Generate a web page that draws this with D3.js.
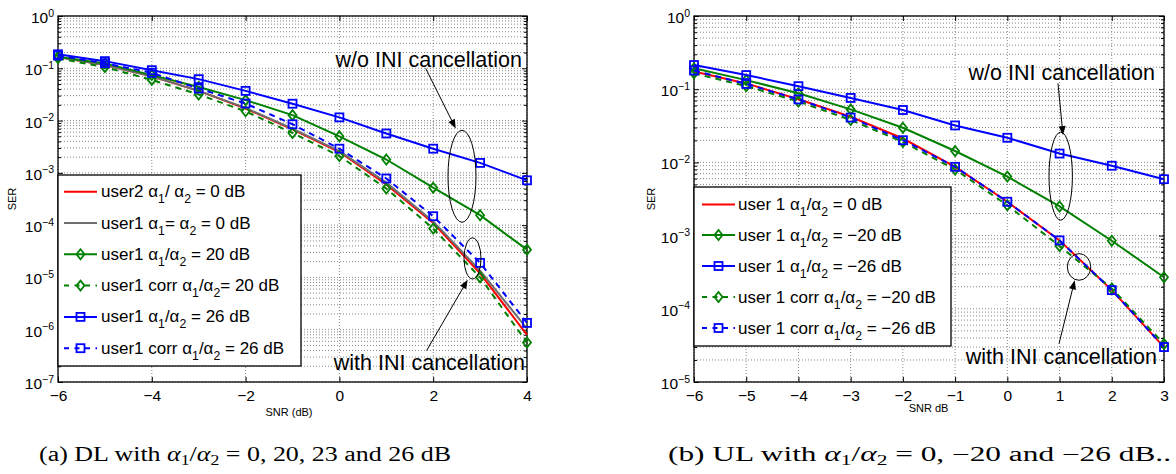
<!DOCTYPE html>
<html><head><meta charset="utf-8">
<script src="https://cdn.jsdelivr.net/npm/d3@7"></script>
<style>
body{margin:0;background:#fff}
svg{display:block}
text{fill:#000}
</style>
</head><body>
<svg id="chart" width="1176" height="474" font-family="'Liberation Sans',Arial,Helvetica,sans-serif"></svg>
<script>
// ---------- DATA ----------
// (a) Downlink
const snrDL = [-6,-5,-4,-3,-2,-1,0,1,2,3,4];
const dlUser2_0dB     = [0.165,0.115,0.070,0.037,0.0170,0.0068,0.0025,0.00060,0.000110,1.2e-5,8.0e-7];
const dlUser1_0dB     = [0.165,0.115,0.070,0.037,0.0175,0.0070,0.0026,0.00065,0.000118,1.35e-5,1.05e-6];
const dlUser1_20dB    = [0.166,0.124,0.074,0.044,0.0246,0.0127,0.0050,0.00180,0.00052,0.000155,3.4e-5];
const dlUser1corr_20dB= [0.155,0.105,0.060,0.0316,0.0150,0.0058,0.0021,0.00050,0.000086,1.0e-5,5.7e-7];
const dlUser1_26dB    = [0.185,0.137,0.092,0.062,0.037,0.021,0.0115,0.00566,0.0029,0.00155,0.00072];
const dlUser1corr_26dB= [0.175,0.125,0.082,0.041,0.0212,0.0085,0.0029,0.00078,0.000148,1.9e-5,1.35e-6];
const dlLegend = ["user2 α_1/ α_2 = 0 dB","user1 α_1= α_2 = 0 dB","user1 α_1/α_2 = 20 dB",
                  "user1 corr α_1/α_2= 20 dB","user1 α_1/α_2 = 26 dB","user1 corr α_1/α_2 = 26 dB"];
const dlXTicks = [-6,-4,-2,0,2,4];
const dlYTicks = [1e-7,1e-6,1e-5,1e-4,1e-3,1e-2,1e-1,1];

// (b) Uplink
const snrUL = [-6,-5,-4,-3,-2,-1,0,1,2,3];
const ulUser1_0dB      = [0.175,0.120,0.073,0.042,0.0212,0.0087,0.0029,0.00086,0.00018,3.0e-5];
const ulUser1_m20dB    = [0.193,0.133,0.088,0.053,0.0297,0.0143,0.0064,0.0025,0.00085,0.00027];
const ulUser1_m26dB    = [0.214,0.156,0.110,0.076,0.052,0.032,0.0217,0.0132,0.0090,0.0059];
const ulUser1corr_m20dB= [0.165,0.110,0.068,0.038,0.0190,0.0080,0.0026,0.00072,0.00019,3.3e-5];
const ulUser1corr_m26dB= [0.180,0.118,0.0725,0.041,0.0201,0.0087,0.0029,0.00086,0.00018,3.0e-5];
const ulLegend = ["user 1 α_1/α_2 = 0 dB","user 1 α_1/α_2 = −20 dB","user 1 α_1/α_2 = −26 dB",
                  "user 1 corr α_1/α_2 = −20 dB","user 1 corr α_1/α_2 = −26 dB"];
const ulXTicks = [-6,-5,-4,-3,-2,-1,0,1,2,3];
const ulYTicks = [1e-5,1e-4,1e-3,1e-2,1e-1,1];

// ---------- STYLE ----------
const RED="#ff0000", GREEN="#008000", BLUE="#0000ff", GRAY="#6e6e6e";
const SANS="'Liberation Sans',Arial,Helvetica,sans-serif";
const SERIF="'Liberation Serif','DejaVu Serif',serif";
const svg = d3.select("#chart");

function richText(sel, str, subDy){
  const parts = str.split(/(_\S)/);
  let shifted = false;
  parts.forEach(p=>{
    if(p==="") return;
    if(p[0]==="_" && p.length===2){
      sel.append("tspan").attr("dy", shifted?0:subDy).style("font-size","0.72em").text(p[1]);
      shifted = true;
    } else {
      sel.append("tspan").attr("dy", shifted?-subDy:0).text(p);
      shifted = false;
    }
  });
}

function marker(g, type, color){
  if(type==="diamond"){
    g.append("path").attr("d","M0,-5L4,0L0,5L-4,0Z").attr("fill","none").attr("stroke",color).attr("stroke-width",1.8);
  } else if(type==="square"){
    g.append("rect").attr("x",-4).attr("y",-4).attr("width",8).attr("height",8).attr("fill","none").attr("stroke",color).attr("stroke-width",1.8);
  }
}

function drawPanel(cfg){
  const {x0,x1,y0,y1} = cfg;
  const x = d3.scaleLinear().domain(cfg.xDomain).range([x0,x1]);
  const y = d3.scaleLog().domain(cfg.yDomain).range([y1,y0]);
  const g = svg.append("g");

  const minors = [];
  cfg.yTicks.forEach(t=>{ for(let m=2;m<=9;m++){ const v=t*m; if(v<cfg.yDomain[1]) minors.push(v);} });

  // grid
  const grid = g.append("g").attr("stroke","#6a6a6a").attr("stroke-width",0.8).attr("stroke-dasharray","1,2");
  grid.selectAll("line.v").data(cfg.xTicks).join("line").attr("class","v")
    .attr("x1",d=>x(d)).attr("x2",d=>x(d)).attr("y1",y0).attr("y2",y1);
  grid.selectAll("line.h").data(minors.concat(cfg.yTicks)).join("line").attr("class","h")
    .attr("y1",d=>y(d)).attr("y2",d=>y(d)).attr("x1",x0).attr("x2",x1);

  // axes (ticks inside on four sides)
  const fontTick = 15.5;
  const bottom = g.append("g").attr("transform",`translate(0,${y1})`)
    .call(d3.axisBottom(x).tickValues(cfg.xTicks).tickSize(-5).tickPadding(8));
  const top = g.append("g").attr("transform",`translate(0,${y0})`)
    .call(d3.axisTop(x).tickValues(cfg.xTicks).tickSize(-5).tickFormat(""));
  const left = g.append("g").attr("transform",`translate(${x0},0)`)
    .call(d3.axisLeft(y).tickValues(cfg.yTicks).tickSize(-5).tickPadding(4));
  const leftMin = g.append("g").attr("transform",`translate(${x0},0)`)
    .call(d3.axisLeft(y).tickValues(minors).tickSize(-3).tickFormat(""));
  const right = g.append("g").attr("transform",`translate(${x1},0)`)
    .call(d3.axisRight(y).tickValues(cfg.yTicks).tickSize(-5).tickFormat(""));
  const rightMin = g.append("g").attr("transform",`translate(${x1},0)`)
    .call(d3.axisRight(y).tickValues(minors).tickSize(-3).tickFormat(""));
  [bottom,top,left,leftMin,right,rightMin].forEach(a=>{
    a.attr("font-family",null).attr("font-size",null);
    a.select(".domain").remove();
    a.selectAll(".tick line").attr("stroke","#000").attr("stroke-width",1);
    a.selectAll("text").style("font-family",SANS).style("font-size",fontTick+"px").attr("fill","#000");
  });
  left.selectAll(".tick text").each(function(d){
    const t = d3.select(this).text(null).attr("dy","0.42em");
    const e = Math.round(Math.log10(d));
    t.append("tspan").text("10");
    t.append("tspan").attr("dy","-0.62em").style("font-size","10.5px").text(String(e).replace("-","−"));
  });

  // box
  g.append("rect").attr("x",x0).attr("y",y0).attr("width",x1-x0).attr("height",y1-y0)
    .attr("fill","none").attr("stroke","#000").attr("stroke-width",1.3);

  // series
  const line = d3.line().x(d=>x(d[0])).y(d=>y(d[1]));
  cfg.series.forEach(s=>{
    const pts = cfg.snr.map((v,i)=>[v,s.values[i]]);
    const sg = g.append("g");
    sg.append("path").attr("d",line(pts)).attr("fill","none").attr("stroke",s.color)
      .attr("stroke-width",2).attr("stroke-dasharray",s.dash?"6,5":null);
    if(s.marker){
      sg.selectAll("g.m").data(pts).join("g").attr("class","m")
        .attr("transform",d=>`translate(${x(d[0])},${y(d[1])})`)
        .each(function(){ marker(d3.select(this), s.marker, s.color); });
    }
  });

  // legend
  const L = cfg.legend;
  const lg = g.append("g");
  lg.append("rect").attr("x",L.x).attr("y",L.y).attr("width",L.w).attr("height",L.h)
    .attr("fill","#fff").attr("stroke","#000").attr("stroke-width",1.3);
  cfg.series.forEach((s,i)=>{
    const ry = L.rows[i];
    const row = lg.append("g");
    row.append("line").attr("x1",L.lx0).attr("x2",L.lx1).attr("y1",ry).attr("y2",ry)
      .attr("stroke",s.color).attr("stroke-width",2).attr("stroke-dasharray",s.dash?"5,5.5":null);
    if(s.marker){
      const mg = row.append("g").attr("transform",`translate(${(L.lx0+L.lx1)/2},${ry})`);
      marker(mg, s.marker, s.color);
    }
    const t = row.append("text").attr("x",L.tx).attr("y",ry+5.5).style("font-size",L.fs+"px");
    richText(t, s.label, 6);
  });

  // annotations
  cfg.annotations.forEach(a=>{
    if(a.type==="ellipse"){
      g.append("ellipse").attr("cx",x(a.cx)).attr("cy",y(a.cy)).attr("rx",a.rx).attr("ry",a.ry)
        .attr("fill","none").attr("stroke","#000").attr("stroke-width",1);
    } else if(a.type==="arrow"){
      const X1=x(a.from[0]),Y1=y(a.from[1]),X2=x(a.to[0]),Y2=y(a.to[1]);
      const ang=Math.atan2(Y2-Y1,X2-X1), hl=9, hw=3.5;
      g.append("line").attr("x1",X1).attr("y1",Y1).attr("x2",X2-Math.cos(ang)*hl*0.8).attr("y2",Y2-Math.sin(ang)*hl*0.8)
        .attr("stroke","#000").attr("stroke-width",1);
      const bx=X2-Math.cos(ang)*hl, by=Y2-Math.sin(ang)*hl;
      const px=-Math.sin(ang)*hw, py=Math.cos(ang)*hw;
      g.append("path").attr("d",`M${X2},${Y2}L${bx+px},${by+py}L${bx-px},${by-py}Z`).attr("fill","#000");
    } else if(a.type==="text"){
      g.append("text").attr("x",a.px).attr("y",a.py).attr("text-anchor","end").style("font-size","21.5px").text(a.text);
    }
  });

  // axis labels
  g.append("text").attr("x",cfg.xLabelPos[0]).attr("y",cfg.xLabelPos[1]).attr("text-anchor","middle")
    .style("font-size","11px").text(cfg.xLabel);
  g.append("text").attr("transform",`translate(${cfg.yLabelX},${(y0+y1)/2}) rotate(-90)`)
    .attr("text-anchor","middle").style("font-size","11px").text("SER");
}

drawPanel({
  x0:58, x1:527, y0:16, y1:382,
  xDomain:[-6,4], yDomain:[1e-7,1],
  xTicks:dlXTicks, yTicks:dlYTicks, snr:snrDL,
  series:[
    {values:dlUser2_0dB, color:RED, label:dlLegend[0]},
    {values:dlUser1_0dB, color:GRAY, label:dlLegend[1]},
    {values:dlUser1_20dB, color:GREEN, marker:"diamond", label:dlLegend[2]},
    {values:dlUser1corr_20dB, color:GREEN, marker:"diamond", dash:true, label:dlLegend[3]},
    {values:dlUser1_26dB, color:BLUE, marker:"square", label:dlLegend[4]},
    {values:dlUser1corr_26dB, color:BLUE, marker:"square", dash:true, label:dlLegend[5]}
  ],
  legend:{x:58,y:175,w:243,h:191,lx0:64,lx1:97,tx:101,fs:17,rows:[191.7,223,254.3,285.6,316.9,348.2]},
  annotations:[
    {type:"text", text:"w/o INI cancellation", px:522, py:67},
    {type:"arrow", from:[1.84,0.0995], to:[2.48,7.06e-3]},
    {type:"ellipse", cx:2.614, cy:8.6e-4, rx:14, ry:46},
    {type:"text", text:"with INI cancellation", px:525, py:370},
    {type:"arrow", from:[1.86,4.0e-7], to:[2.735,9.0e-6]},
    {type:"ellipse", cx:2.838, cy:2.31e-5, rx:8.5, ry:20.5}
  ],
  xLabel:"SNR (dB)", xLabelPos:[289,416], yLabelX:16
});

drawPanel({
  x0:694, x1:1164, y0:16, y1:382,
  xDomain:[-6,3], yDomain:[1e-5,1],
  xTicks:ulXTicks, yTicks:ulYTicks, snr:snrUL,
  series:[
    {values:ulUser1_0dB, color:RED, label:ulLegend[0]},
    {values:ulUser1_m20dB, color:GREEN, marker:"diamond", label:ulLegend[1]},
    {values:ulUser1_m26dB, color:BLUE, marker:"square", label:ulLegend[2]},
    {values:ulUser1corr_m20dB, color:GREEN, marker:"diamond", dash:true, label:ulLegend[3]},
    {values:ulUser1corr_m26dB, color:BLUE, marker:"square", dash:true, label:ulLegend[4]}
  ],
  legend:{x:694,y:187,w:257,h:159,lx0:702,lx1:735,tx:738,fs:17,rows:[204.5,235,266,297,328]},
  annotations:[
    {type:"text", text:"w/o INI cancellation", px:1155, py:80},
    {type:"arrow", from:[0.97,0.12], to:[1.066,0.0236]},
    {type:"ellipse", cx:1.022, cy:6.49e-3, rx:11.7, ry:44},
    {type:"text", text:"with INI cancellation", px:1157, py:363.5},
    {type:"arrow", from:[0.99,3.34e-5], to:[1.29,2.45e-4]},
    {type:"ellipse", cx:1.373, cy:3.73e-4, rx:11.7, ry:13.3}
  ],
  xLabel:"SNR dB", xLabelPos:[928.5,412], yLabelX:655
});

// captions (Computer-Modern-like width via stretched serif)
function caption(cx, cy, width, pre, post){
  const t = svg.append("text").attr("x",cx).attr("y",cy).attr("text-anchor","middle")
    .attr("textLength",width).attr("lengthAdjust","spacingAndGlyphs")
    .style("font-family",SERIF).style("font-size","20.5px");
  t.append("tspan").text(pre);
  t.append("tspan").style("font-style","italic").text("α");
  t.append("tspan").attr("dy",4).style("font-size","14px").text("1");
  t.append("tspan").attr("dy",-4).text("/");
  t.append("tspan").style("font-style","italic").text("α");
  t.append("tspan").attr("dy",4).style("font-size","14px").text("2");
  t.append("tspan").attr("dy",-4).text(post);
}
caption(245, 461, 412, "(a) DL with ", " = 0, 20, 23 and 26 dB");
caption(919.5, 461, 503, "(b) UL with ", " = 0, −20 and −26 dB..");
</script>
</body></html>
